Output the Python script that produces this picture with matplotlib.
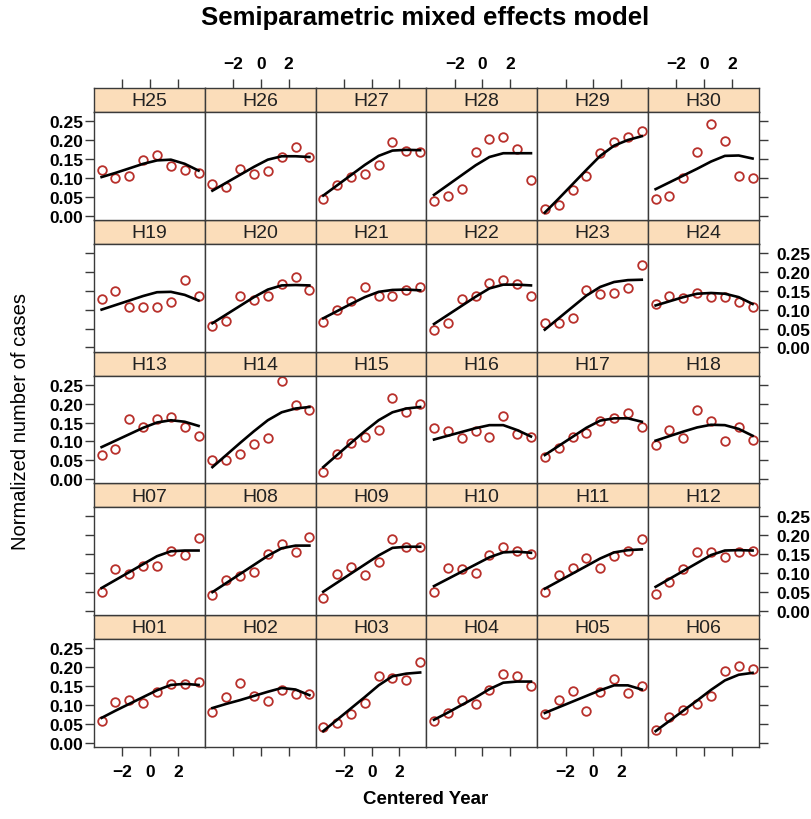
import matplotlib
matplotlib.use("Agg")
import matplotlib.pyplot as plt

plt.rcParams['font.family'] = ['Liberation Sans', 'DejaVu Sans']

# ---------------- data ----------------
centered_year = [-3.5, -2.5, -1.5, -0.5, 0.5, 1.5, 2.5, 3.5]
x_ticks = [-2, 0, 2]
y_ticks = [0.00, 0.05, 0.10, 0.15, 0.20, 0.25]
y_tick_labels = ["0.00", "0.05", "0.10", "0.15", "0.20", "0.25"]

h01_obs = [0.058, 0.108, 0.114, 0.105, 0.134, 0.155, 0.155, 0.161]
h01_fit = [0.066, 0.085, 0.103, 0.121, 0.139, 0.153, 0.156, 0.153]
h02_obs = [0.081, 0.120, 0.159, 0.125, 0.111, 0.139, 0.130, 0.129]
h02_fit = [0.092, 0.103, 0.113, 0.124, 0.135, 0.145, 0.141, 0.126]
h03_obs = [0.042, 0.052, 0.075, 0.105, 0.176, 0.172, 0.166, 0.213]
h03_fit = [0.031, 0.061, 0.091, 0.121, 0.152, 0.176, 0.183, 0.186]
h04_obs = [0.058, 0.079, 0.113, 0.102, 0.141, 0.182, 0.176, 0.150]
h04_fit = [0.061, 0.080, 0.100, 0.120, 0.142, 0.159, 0.162, 0.162]
h05_obs = [0.075, 0.114, 0.136, 0.084, 0.134, 0.168, 0.132, 0.150]
h05_fit = [0.079, 0.094, 0.109, 0.124, 0.139, 0.152, 0.152, 0.141]
h06_obs = [0.033, 0.068, 0.088, 0.104, 0.123, 0.190, 0.203, 0.194]
h06_fit = [0.031, 0.058, 0.085, 0.112, 0.140, 0.165, 0.180, 0.185]
h07_obs = [0.051, 0.112, 0.099, 0.119, 0.119, 0.159, 0.148, 0.193]
h07_fit = [0.061, 0.082, 0.103, 0.124, 0.145, 0.158, 0.160, 0.160]
h08_obs = [0.043, 0.083, 0.092, 0.102, 0.152, 0.176, 0.155, 0.197]
h08_fit = [0.050, 0.074, 0.098, 0.122, 0.146, 0.166, 0.173, 0.173]
h09_obs = [0.035, 0.099, 0.117, 0.095, 0.129, 0.191, 0.170, 0.170]
h09_fit = [0.051, 0.075, 0.099, 0.123, 0.147, 0.167, 0.170, 0.170]
h10_obs = [0.051, 0.115, 0.111, 0.101, 0.148, 0.168, 0.159, 0.152]
h10_fit = [0.066, 0.085, 0.104, 0.123, 0.142, 0.155, 0.157, 0.154]
h11_obs = [0.050, 0.095, 0.114, 0.139, 0.115, 0.146, 0.159, 0.190]
h11_fit = [0.059, 0.079, 0.099, 0.119, 0.139, 0.155, 0.161, 0.163]
h12_obs = [0.044, 0.077, 0.110, 0.156, 0.156, 0.144, 0.156, 0.159]
h12_fit = [0.064, 0.085, 0.106, 0.127, 0.148, 0.160, 0.161, 0.160]
h13_obs = [0.063, 0.081, 0.160, 0.138, 0.160, 0.165, 0.139, 0.113]
h13_fit = [0.085, 0.102, 0.119, 0.136, 0.150, 0.156, 0.152, 0.141]
h14_obs = [0.052, 0.052, 0.066, 0.092, 0.110, 0.261, 0.196, 0.184]
h14_fit = [0.032, 0.064, 0.096, 0.127, 0.156, 0.177, 0.187, 0.191]
h15_obs = [0.019, 0.066, 0.097, 0.112, 0.130, 0.214, 0.178, 0.199]
h15_fit = [0.032, 0.064, 0.096, 0.127, 0.156, 0.177, 0.187, 0.191]
h16_obs = [0.135, 0.128, 0.108, 0.128, 0.111, 0.166, 0.120, 0.111]
h16_fit = [0.105, 0.115, 0.125, 0.135, 0.143, 0.143, 0.130, 0.113]
h17_obs = [0.058, 0.082, 0.111, 0.121, 0.154, 0.163, 0.175, 0.139]
h17_fit = [0.064, 0.088, 0.112, 0.136, 0.155, 0.161, 0.161, 0.152]
h18_obs = [0.090, 0.130, 0.108, 0.184, 0.154, 0.102, 0.137, 0.105]
h18_fit = [0.102, 0.114, 0.126, 0.137, 0.144, 0.143, 0.133, 0.115]
h19_obs = [0.129, 0.148, 0.108, 0.108, 0.108, 0.120, 0.179, 0.136]
h19_fit = [0.100, 0.112, 0.124, 0.136, 0.146, 0.147, 0.139, 0.124]
h20_obs = [0.056, 0.071, 0.135, 0.126, 0.135, 0.168, 0.186, 0.151]
h20_fit = [0.064, 0.087, 0.110, 0.133, 0.153, 0.164, 0.165, 0.164]
h21_obs = [0.066, 0.098, 0.122, 0.160, 0.135, 0.137, 0.151, 0.160]
h21_fit = [0.077, 0.096, 0.115, 0.133, 0.147, 0.152, 0.153, 0.151]
h22_obs = [0.046, 0.064, 0.127, 0.137, 0.170, 0.179, 0.167, 0.137]
h22_fit = [0.062, 0.086, 0.110, 0.134, 0.156, 0.166, 0.166, 0.164]
h23_obs = [0.064, 0.064, 0.077, 0.151, 0.140, 0.144, 0.157, 0.217]
h23_fit = [0.047, 0.077, 0.107, 0.137, 0.160, 0.173, 0.178, 0.179]
h24_obs = [0.115, 0.137, 0.131, 0.145, 0.133, 0.133, 0.121, 0.106]
h24_fit = [0.111, 0.122, 0.133, 0.142, 0.144, 0.142, 0.133, 0.115]
h25_obs = [0.121, 0.099, 0.106, 0.146, 0.159, 0.130, 0.121, 0.113]
h25_fit = [0.102, 0.113, 0.125, 0.137, 0.146, 0.148, 0.137, 0.119]
h26_obs = [0.083, 0.076, 0.124, 0.110, 0.117, 0.154, 0.182, 0.154]
h26_fit = [0.066, 0.087, 0.108, 0.129, 0.148, 0.157, 0.157, 0.155]
h27_obs = [0.043, 0.082, 0.102, 0.110, 0.133, 0.195, 0.172, 0.168]
h27_fit = [0.053, 0.080, 0.107, 0.134, 0.158, 0.172, 0.174, 0.173]
h28_obs = [0.040, 0.051, 0.071, 0.168, 0.203, 0.208, 0.175, 0.095]
h28_fit = [0.055, 0.081, 0.107, 0.133, 0.155, 0.165, 0.165, 0.165]
h29_obs = [0.017, 0.028, 0.067, 0.104, 0.165, 0.195, 0.207, 0.223]
h29_fit = [0.008, 0.045, 0.083, 0.121, 0.158, 0.185, 0.200, 0.210]
h30_obs = [0.044, 0.052, 0.099, 0.168, 0.243, 0.197, 0.104, 0.099]
h30_fit = [0.070, 0.088, 0.106, 0.124, 0.143, 0.158, 0.159, 0.151]

panels = [
    ("H01", h01_obs, h01_fit), ("H02", h02_obs, h02_fit), ("H03", h03_obs, h03_fit),
    ("H04", h04_obs, h04_fit), ("H05", h05_obs, h05_fit), ("H06", h06_obs, h06_fit),
    ("H07", h07_obs, h07_fit), ("H08", h08_obs, h08_fit), ("H09", h09_obs, h09_fit),
    ("H10", h10_obs, h10_fit), ("H11", h11_obs, h11_fit), ("H12", h12_obs, h12_fit),
    ("H13", h13_obs, h13_fit), ("H14", h14_obs, h14_fit), ("H15", h15_obs, h15_fit),
    ("H16", h16_obs, h16_fit), ("H17", h17_obs, h17_fit), ("H18", h18_obs, h18_fit),
    ("H19", h19_obs, h19_fit), ("H20", h20_obs, h20_fit), ("H21", h21_obs, h21_fit),
    ("H22", h22_obs, h22_fit), ("H23", h23_obs, h23_fit), ("H24", h24_obs, h24_fit),
    ("H25", h25_obs, h25_fit), ("H26", h26_obs, h26_fit), ("H27", h27_obs, h27_fit),
    ("H28", h28_obs, h28_fit), ("H29", h29_obs, h29_fit), ("H30", h30_obs, h30_fit),
]

# ---------------- layout ----------------
W, H = 811, 820
fig = plt.figure(figsize=(W / 100, H / 100), dpi=100)
fig.patch.set_facecolor("white")

def rect(x0, y0, w, h):
    return [x0 / W, 1 - (y0 + h) / H, w / W, h / H]

LEFT, TOP = 94.0, 89.0
CW, RH, SH = 110.8, 131.8, 24.0
NCOL, NROW = 6, 5
XLIM = (-4.05, 3.95)
YLIM = (-0.011, 0.274)
STRIP = "#FBDDBA"
EDGE = "#3a3a3a"
PT = "#B8302B"
TICKLEN = 6.5
TICKSIZE = 12.5

for k, (name, obs, fit) in enumerate(panels):
    col = k % NCOL
    rt = NROW - 1 - k // NCOL
    x0 = LEFT + col * CW
    st = TOP + rt * RH

    sax = fig.add_axes(rect(x0, st, CW, SH))
    ax = fig.add_axes(rect(x0, st + SH, CW, RH - SH))

    # strip
    sax.set_facecolor(STRIP)
    sax.set_xlim(*XLIM)
    sax.set_ylim(0, 1)
    sax.text(0.5, 0.47, name, transform=sax.transAxes, ha="center", va="center",
             fontsize=14, color="#222222")
    for s in sax.spines.values():
        s.set_color(EDGE)
        s.set_linewidth(1.0)
    sax.set_yticks([])
    if rt == 0:
        sax.set_xticks(x_ticks)
        sax.xaxis.set_ticks_position("top")
        sax.tick_params(axis="x", direction="out", length=TICKLEN, width=1,
                        color=EDGE, pad=6, labeltop=(col % 2 == 1),
                        labelbottom=False, bottom=False, top=True)
        for lab in sax.get_xticklabels():
            lab.set_fontsize(TICKSIZE)
            lab.set_fontweight("bold")
    else:
        sax.set_xticks([])

    # panel
    ax.plot(centered_year, obs, linestyle="none", marker="o", markersize=6.2,
            markerfacecolor="none", markeredgecolor=PT, markeredgewidth=1.3, zorder=2)
    ax.plot(centered_year, fit, color="black", linewidth=1.9, zorder=3)
    ax.set_xlim(*XLIM)
    ax.set_ylim(*YLIM)
    for s in ax.spines.values():
        s.set_color(EDGE)
        s.set_linewidth(1.0)

    if rt == NROW - 1:
        ax.set_xticks(x_ticks)
        ax.tick_params(axis="x", direction="out", length=TICKLEN, width=1, color=EDGE,
                       pad=6, bottom=True, top=False, labelbottom=(col % 2 == 0),
                       labeltop=False)
        for lab in ax.get_xticklabels():
            lab.set_fontsize(TICKSIZE)
            lab.set_fontweight("bold")
    else:
        ax.set_xticks([])

    if col == 0 or col == NCOL - 1:
        ax.set_yticks(y_ticks)
        ax.set_yticklabels(y_tick_labels)
        left_lab = (col == 0 and rt % 2 == 0)
        right_lab = (col == NCOL - 1 and rt % 2 == 1)
        ax.tick_params(axis="y", direction="out", length=TICKLEN, width=1, color=EDGE,
                       left=(col == 0), right=(col == NCOL - 1),
                       labelleft=left_lab, labelright=right_lab,
                       pad=(1.5 if left_lab else 6))
        for lab in ax.get_yticklabels():
            lab.set_fontsize(TICKSIZE)
            lab.set_fontweight("bold")
    else:
        ax.set_yticks([])

fig.text(425 / W, 1 - 18 / H, "Semiparametric mixed effects model", ha="center",
         va="center", fontsize=18.5, fontweight="bold")
fig.text(426 / W, 1 - 800 / H, "Centered Year", ha="center", va="center",
         fontsize=13.5, fontweight="bold")
fig.text(21 / W, 1 - 422 / H, "Normalized number of cases", ha="center", va="center",
         rotation=90, fontsize=14.5)

fig.savefig("out.png", dpi=100)
